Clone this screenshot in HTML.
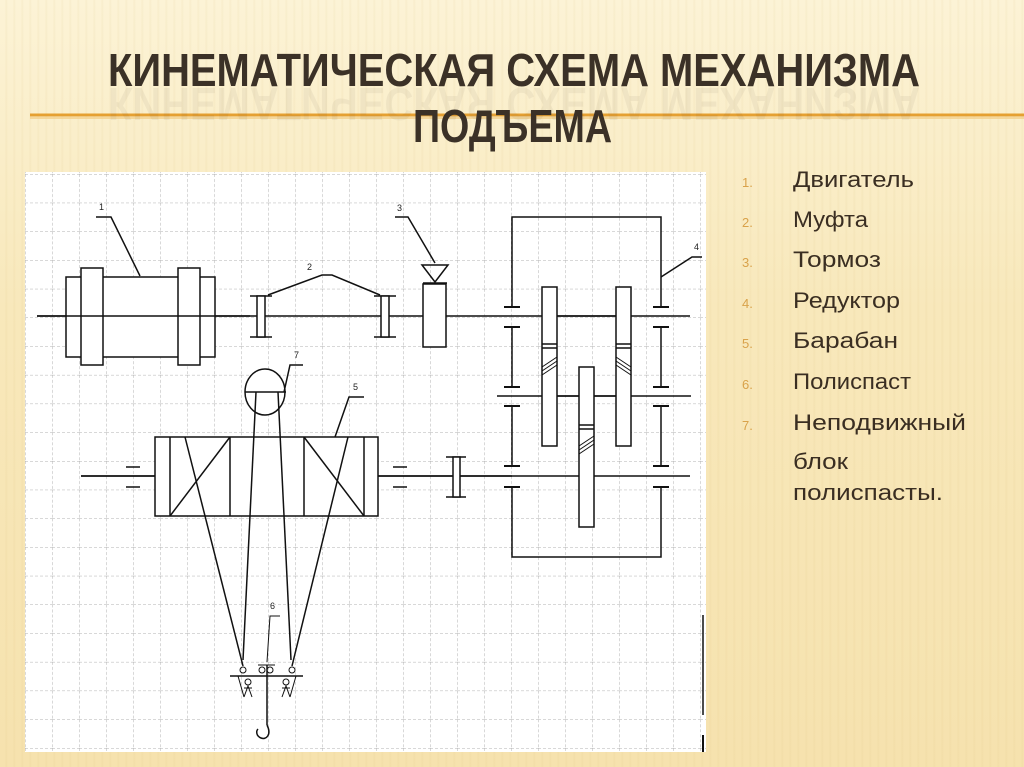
<!DOCTYPE html>
<html><head><meta charset="utf-8"><style>
html,body{margin:0;padding:0}
body{width:1024px;height:767px;overflow:hidden;position:relative;
background:
repeating-linear-gradient(90deg,rgba(255,255,255,0.0) 0px,rgba(255,255,255,0.0) 5px,rgba(210,180,110,0.10) 6px,rgba(255,255,255,0) 8px),
linear-gradient(180deg,#fcf3d6 0%,#f8e8bb 40%,#f6e2ae 100%);}
svg{position:absolute;left:0;top:0}
</style></head><body>
<svg width="1024" height="767" viewBox="0 0 1024 767" xmlns="http://www.w3.org/2000/svg">
<defs>
<pattern id="grid" x="25" y="174" width="27" height="28.7" patternUnits="userSpaceOnUse">
<path d="M0 0V28.7M0 0H27" stroke="#b0b0b0" stroke-width="1" stroke-dasharray="3,2" fill="none"/>
</pattern>
</defs>
<line x1="30" y1="115" x2="1024" y2="115" stroke="#e5a032" stroke-width="3"/>
<line x1="30" y1="118" x2="1024" y2="118" stroke="#f3cf8a" stroke-width="1.5"/>
<g font-family="Liberation Sans, sans-serif" font-weight="bold" transform="translate(0,174) scale(1,-1)">
<text x="108" y="86" font-size="46" textLength="812" lengthAdjust="spacingAndGlyphs" fill="#3b3127" opacity="0.05">КИНЕМАТИЧЕСКАЯ СХЕМА МЕХАНИЗМА</text>
</g>
<g font-family="Liberation Sans, sans-serif" font-weight="bold" fill="#3b3127">
<text x="108" y="86" font-size="46" textLength="812" lengthAdjust="spacingAndGlyphs">КИНЕМАТИЧЕСКАЯ СХЕМА МЕХАНИЗМА</text>
<text x="413" y="142" font-size="46" textLength="199" lengthAdjust="spacingAndGlyphs">ПОДЪЕМА</text>
</g>
<g font-family="Liberation Sans, sans-serif">
<g fill="#d9a24a" font-size="13">
<text x="742" y="187">1.</text><text x="742" y="227">2.</text><text x="742" y="267">3.</text>
<text x="742" y="308">4.</text><text x="742" y="348">5.</text><text x="742" y="389">6.</text><text x="742" y="430">7.</text>
</g>
<g fill="#3a2e22" font-size="22">
<text x="793" y="187" textLength="121" lengthAdjust="spacingAndGlyphs">Двигатель</text>
<text x="793" y="227" textLength="75" lengthAdjust="spacingAndGlyphs">Муфта</text>
<text x="793" y="267" textLength="88" lengthAdjust="spacingAndGlyphs">Тормоз</text>
<text x="793" y="308" textLength="107" lengthAdjust="spacingAndGlyphs">Редуктор</text>
<text x="793" y="348" textLength="105" lengthAdjust="spacingAndGlyphs">Барабан</text>
<text x="793" y="389" textLength="118" lengthAdjust="spacingAndGlyphs">Полиспаст</text>
<text x="793" y="430" textLength="173" lengthAdjust="spacingAndGlyphs">Неподвижный</text>
<text x="793" y="469" textLength="55" lengthAdjust="spacingAndGlyphs">блок</text>
<text x="793" y="500" textLength="150" lengthAdjust="spacingAndGlyphs">полиспасты.</text>
</g>
</g>
<rect x="25" y="172" width="681" height="580" fill="#fff"/>
<rect x="25" y="172" width="681" height="580" fill="url(#grid)"/>
<g stroke="#111" stroke-width="1.5" fill="none">
<line x1="37" y1="316" x2="690" y2="316"/>
<line x1="497" y1="396" x2="691" y2="396"/>
<line x1="81" y1="476" x2="690" y2="476"/>
<rect x="66" y="277" width="149" height="80" fill="#fff"/>
<rect x="81" y="268" width="22" height="97" fill="#fff"/>
<rect x="178" y="268" width="22" height="97" fill="#fff"/>
<line x1="37" y1="316" x2="250" y2="316"/>
<polyline points="96,217 111,217 140,276"/>
<line x1="250" y1="296" x2="272" y2="296"/><line x1="250" y1="337" x2="272" y2="337"/>
<rect x="257" y="296" width="8" height="41" fill="#fff"/>
<line x1="374" y1="296" x2="396" y2="296"/><line x1="374" y1="337" x2="396" y2="337"/>
<rect x="381" y="296" width="8" height="41" fill="#fff"/>
<polyline points="268,295 322,275 332,275 380,295"/>
<rect x="423" y="284" width="23" height="63" fill="#fff"/>
<polygon points="422,265 448,265 435,282"/>
<line x1="423" y1="283" x2="447" y2="283"/>
<polyline points="395,217 408,217 435,263"/>
<polyline points="512,307 512,217 661,217 661,307"/>
<line x1="512" y1="327" x2="512" y2="387"/><line x1="661" y1="327" x2="661" y2="387"/>
<line x1="512" y1="406" x2="512" y2="466"/><line x1="661" y1="406" x2="661" y2="466"/>
<polyline points="512,487 512,557 661,557 661,487"/>
<g stroke-width="2">
<line x1="504" y1="307" x2="520" y2="307"/><line x1="504" y1="327" x2="520" y2="327"/>
<line x1="504" y1="387" x2="520" y2="387"/><line x1="504" y1="406" x2="520" y2="406"/>
<line x1="504" y1="466" x2="520" y2="466"/><line x1="504" y1="487" x2="520" y2="487"/>
<line x1="653" y1="307" x2="669" y2="307"/><line x1="653" y1="327" x2="669" y2="327"/>
<line x1="653" y1="387" x2="669" y2="387"/><line x1="653" y1="406" x2="669" y2="406"/>
<line x1="653" y1="466" x2="669" y2="466"/><line x1="653" y1="487" x2="669" y2="487"/>
</g>
<polyline points="661,277 692,257 702,257"/>
<rect x="542" y="287" width="15" height="159" fill="#fff"/>
<rect x="616" y="287" width="15" height="159" fill="#fff"/>
<rect x="579" y="367" width="15" height="160" fill="#fff"/>
<line x1="542" y1="344" x2="557" y2="344"/><line x1="542" y1="348" x2="557" y2="348"/>
<line x1="616" y1="344" x2="631" y2="344"/><line x1="616" y1="348" x2="631" y2="348"/>
<line x1="579" y1="425" x2="594" y2="425"/><line x1="579" y1="429" x2="594" y2="429"/>
<g stroke-width="1">
<line x1="542" y1="367" x2="557" y2="357"/><line x1="542" y1="371" x2="557" y2="361"/><line x1="542" y1="375" x2="557" y2="365"/>
<line x1="616" y1="357" x2="631" y2="367"/><line x1="616" y1="361" x2="631" y2="371"/><line x1="616" y1="365" x2="631" y2="375"/>
<line x1="579" y1="446" x2="594" y2="436"/><line x1="579" y1="450" x2="594" y2="440"/><line x1="579" y1="454" x2="594" y2="444"/>
</g>
<line x1="557" y1="316" x2="616" y2="316"/><line x1="557" y1="396" x2="579" y2="396"/><line x1="594" y1="396" x2="616" y2="396"/>
<rect x="155" y="437" width="223" height="79" fill="#fff"/>
<line x1="170" y1="437" x2="170" y2="516"/><line x1="230" y1="437" x2="230" y2="516"/>
<line x1="304" y1="437" x2="304" y2="516"/><line x1="364" y1="437" x2="364" y2="516"/>
<line x1="170" y1="516" x2="230" y2="437"/>
<line x1="304" y1="437" x2="364" y2="516"/>
<polyline points="335,437 349,397 364,397"/>
<line x1="126" y1="467" x2="140" y2="467"/><line x1="126" y1="487" x2="140" y2="487"/>
<line x1="393" y1="467" x2="407" y2="467"/><line x1="393" y1="487" x2="407" y2="487"/>
<line x1="81" y1="476" x2="155" y2="476"/><line x1="378" y1="476" x2="512" y2="476"/>
<line x1="446" y1="457" x2="466" y2="457"/><line x1="446" y1="497" x2="466" y2="497"/>
<rect x="453" y="457" width="7" height="40" fill="#fff"/>
<ellipse cx="265" cy="392" rx="20" ry="23" fill="#fff"/>
<line x1="245" y1="392" x2="286" y2="392"/>
<polyline points="284,392 290,365 303,365"/>
<line x1="185" y1="437" x2="243" y2="666"/>
<line x1="348" y1="437" x2="292" y2="666"/>
<line x1="256" y1="392" x2="243" y2="660"/>
<line x1="278" y1="392" x2="291" y2="660"/>
<line x1="230" y1="676" x2="303" y2="676"/>
<g stroke-width="1">
<circle cx="243" cy="670" r="3"/><circle cx="262" cy="670" r="3"/><circle cx="270" cy="670" r="3"/><circle cx="292" cy="670" r="3"/>
<line x1="258" y1="665" x2="275" y2="665"/>
<circle cx="248" cy="682" r="3"/><circle cx="286" cy="682" r="3"/>
<polyline points="244,697 248,686 252,697"/><polyline points="282,697 286,686 290,697"/>
<line x1="244" y1="688" x2="252" y2="688"/><line x1="282" y1="688" x2="290" y2="688"/>
<line x1="238" y1="676" x2="244" y2="697"/><line x1="296" y1="676" x2="290" y2="697"/>
</g>
<line x1="267" y1="665" x2="267" y2="725"/>
<path d="M267 725 C272 735,266 740,261 738 C256 736,256 731,258 729"/>
<polyline points="267,662 270,616 280,616" stroke-width="1"/>
<line x1="703" y1="615" x2="703" y2="715"/>
<line x1="703" y1="735" x2="703" y2="752" stroke-width="2"/>
</g>
<g font-family="Liberation Sans, sans-serif" font-size="9" fill="#222">
<text x="99" y="210">1</text><text x="307" y="270">2</text><text x="397" y="211">3</text>
<text x="694" y="250">4</text><text x="353" y="390">5</text><text x="270" y="609">6</text><text x="294" y="358">7</text>
</g>
</svg>
</body></html>
